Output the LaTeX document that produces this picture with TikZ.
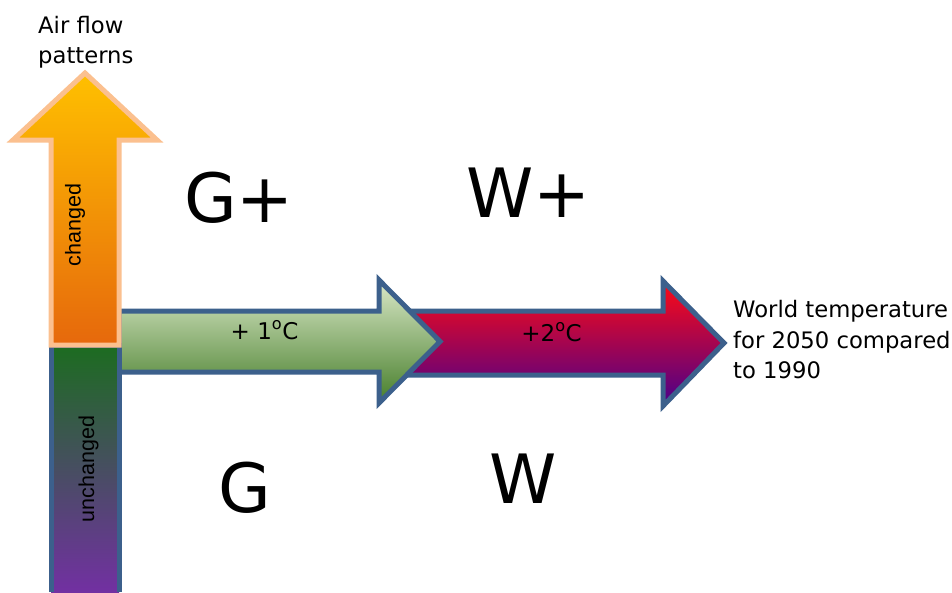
\documentclass[tikz,border=0pt]{standalone}
\usepackage{fontspec}
\setmainfont{DejaVu Sans}
\newfontfamily\arialfont{Liberation Sans}
\definecolor{edgeblue}{RGB}{60,96,140}
\definecolor{peach}{RGB}{251,192,143}
\definecolor{gtop}{RGB}{218,232,200}
\definecolor{gmid}{RGB}{150,185,115}
\definecolor{gbot}{RGB}{70,126,42}
\definecolor{rtop}{RGB}{255,10,20}
\definecolor{rmid}{RGB}{170,0,120}
\definecolor{rbot}{RGB}{72,0,140}
\definecolor{otop}{RGB}{255,192,0}
\definecolor{omid}{RGB}{242,155,8}
\definecolor{obot}{RGB}{230,104,12}
\definecolor{utop}{RGB}{28,108,32}
\definecolor{umid}{RGB}{74,86,100}
\definecolor{ubot}{RGB}{114,48,162}
\tikzset{
  arrowshape/.style={line width=5pt, line join=miter, miter limit=10},
  bigletter/.style={font=\fontsize{68}{68}\selectfont, anchor=base west, inner sep=0pt},
  labeltext/.style={font=\fontsize{22.7}{30}\selectfont, anchor=base west, inner sep=0pt},
  degtext/.style={font=\fontsize{23}{26}\selectfont, anchor=base, inner sep=0pt},
  bartext/.style={font=\arialfont\fontsize{21.5}{24}\selectfont, rotate=90, inner sep=0pt}
}
\begin{document}
\begin{tikzpicture}[x=1pt,y=-1pt]
\useasboundingbox (0,0) rectangle (952,592);
% red/purple arrow (+2)
\draw[arrowshape, draw=edgeblue, top color=rtop, middle color=rmid, bottom color=rbot]
  (400,311) -- (663,311) -- (663,281) -- (724,343) -- (663,406) -- (663,375) -- (400,375) -- cycle;
% green arrow (+1)
\draw[arrowshape, draw=edgeblue, top color=gtop, middle color=gmid, bottom color=gbot]
  (119,311) -- (379,311) -- (379,280) -- (440,341.5) -- (379,403) -- (379,372) -- (119,372) -- cycle;
% unchanged bar
\shade[top color=utop, middle color=umid, bottom color=ubot] (51,345) rectangle (119,592);
\draw[line width=5pt, draw=edgeblue] (51,592) -- (51,345) -- (119,345) -- (119,592);
% changed up arrow
\draw[arrowshape, draw=peach, top color=otop, middle color=omid, bottom color=obot]
  (51,345) -- (51,140) -- (13,140) -- (85,73) -- (157,140) -- (119,140) -- (119,345) -- cycle;
% texts
\node[labeltext] (air1) at (38,33) {Air flow};
\node[labeltext] (air2) at (38,63) {patterns};
\node[labeltext] (wt1) at (733,317) {World temperature};
\node[labeltext] (wt2) at (733,348) {for 2050 compared};
\node[labeltext] (wt3) at (733,378) {to 1990};
\node[bigletter] (gplus) at (184,222) {G+};
\node[bigletter] (wplus) at (466,217) {W+};
\node[bigletter] (g) at (218,512) {G};
\node[bigletter] (w) at (489,503) {W};
\node[degtext] (one) at (264.5,339) {+ 1\textsuperscript{o}C};
\node[degtext] (two) at (551.5,341) {+2\textsuperscript{o}C};
\node[bartext] (changed) at (75,225) {changed};
\node[bartext] (unchanged) at (88.5,469) {unchanged};
\end{tikzpicture}
\end{document}
